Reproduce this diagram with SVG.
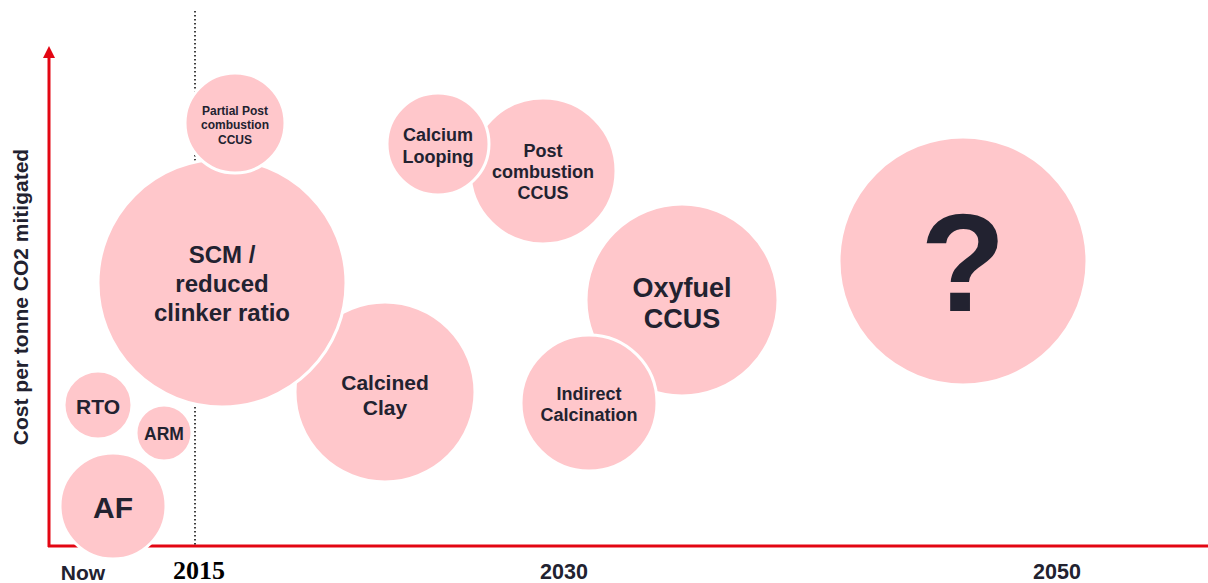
<svg xmlns="http://www.w3.org/2000/svg" width="1208" height="583" viewBox="0 0 1208 583">
<defs>
<style>
.b{fill:#FFC7CB;stroke:#fff;stroke-width:3}
.t{font-family:"Liberation Sans",Arial,sans-serif;font-weight:bold;fill:#222230;text-anchor:middle;dominant-baseline:central}
.ax{stroke:#E30613;stroke-width:3;fill:none}
.yr{font-family:"Liberation Serif","Times New Roman",serif;font-weight:bold;fill:#000;text-anchor:middle}
</style>
<marker id="ah" viewBox="0 0 10 10" refX="5" refY="5" markerWidth="4" markerHeight="4" orient="auto"><path d="M0,0 L10,5 L0,10 z" fill="#E30613"/></marker>
</defs>
<rect width="1208" height="583" fill="#fff"/>
<g id="axes">
<polyline class="ax" points="49,547 49,52" marker-end="url(#ah)"/>
<line class="ax" x1="48" y1="546" x2="1208" y2="546"/>
<line x1="195" y1="11" x2="195" y2="546" stroke="#000" stroke-width="1.5" stroke-dasharray="1.5,2.5"/>
</g>
<g id="AF"><circle class="b" cx="113" cy="506" r="53"/><text class="t" x="113" y="507" font-size="30">AF</text></g>
<g id="RTO"><circle class="b" cx="98" cy="405" r="34"/><text class="t" x="98" y="406" font-size="21">RTO</text></g>
<g id="ARM"><circle class="b" cx="164" cy="433" r="28"/><text class="t" x="164" y="434" font-size="17.5">ARM</text></g>
<g id="CalcinedClay"><circle class="b" cx="385" cy="392" r="90"/><text class="t" x="385" y="382" font-size="21">Calcined</text><text class="t" x="385" y="407" font-size="21">Clay</text></g>
<g id="SCM"><circle class="b" cx="222" cy="283" r="124"/><text class="t" x="222" y="254" font-size="24">SCM /</text><text class="t" x="222" y="283" font-size="24">reduced</text><text class="t" x="222" y="312" font-size="24">clinker ratio</text></g>
<g id="PartialPost"><circle class="b" cx="235" cy="123" r="50"/><text class="t" x="235" y="111" font-size="12">Partial Post</text><text class="t" x="235" y="125" font-size="12">combustion</text><text class="t" x="235" y="140" font-size="12">CCUS</text></g>
<g id="PostCombustion"><circle class="b" cx="543" cy="171" r="73"/><text class="t" x="543" y="151" font-size="18">Post</text><text class="t" x="543" y="172" font-size="18">combustion</text><text class="t" x="543" y="193" font-size="18">CCUS</text></g>
<g id="CalciumLooping"><circle class="b" cx="438" cy="144" r="51"/><text class="t" x="438" y="135" font-size="18">Calcium</text><text class="t" x="438" y="157" font-size="18">Looping</text></g>
<g id="Oxyfuel"><circle class="b" cx="682" cy="300" r="96"/><text class="t" x="682" y="288" font-size="27">Oxyfuel</text><text class="t" x="682" y="319" font-size="27">CCUS</text></g>
<g id="Indirect"><circle class="b" cx="589" cy="403" r="68"/><text class="t" x="589" y="394" font-size="18">Indirect</text><text class="t" x="589" y="415" font-size="18">Calcination</text></g>
<g id="Question"><circle class="b" cx="963" cy="261" r="124"/><text class="t" x="963" y="262" font-size="140">?</text></g>
<g id="labels">
<text class="t" x="20" y="297" font-size="21" transform="rotate(-90 20 297)">Cost per tonne CO2 mitigated</text>
<text class="t" x="83" y="572" font-size="21">Now</text>
<text class="yr" x="199" y="579" font-size="26">2015</text>
<text class="t" x="564" y="572" font-size="21.5">2030</text>
<text class="t" x="1057" y="572" font-size="21.5">2050</text>
</g>
</svg>
